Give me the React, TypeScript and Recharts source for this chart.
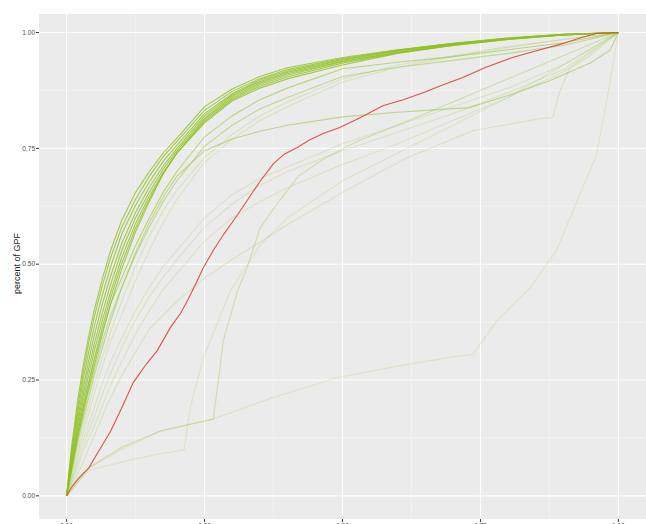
import React from 'react'
import { LineChart, Line, XAxis, YAxis, CartesianGrid } from 'recharts'

// shared x grid (share of population) for the smooth curves
const grid = [0, 0.005, 0.01, 0.02, 0.03, 0.04, 0.05, 0.065, 0.08, 0.1, 0.125, 0.15, 0.175, 0.2, 0.25, 0.3, 0.35, 0.4, 0.5, 0.6, 0.7, 0.8, 0.9, 1]

// strong green curves
const d1 = [0, 0.06, 0.115, 0.205, 0.28, 0.345, 0.4, 0.47, 0.53, 0.595, 0.655, 0.7, 0.74, 0.772, 0.84, 0.878, 0.905, 0.924, 0.946, 0.963, 0.977, 0.988, 0.996, 1]
const d2 = [0, 0.055, 0.105, 0.19, 0.265, 0.33, 0.385, 0.455, 0.515, 0.58, 0.64, 0.69, 0.732, 0.765, 0.832, 0.873, 0.9, 0.92, 0.944, 0.962, 0.976, 0.988, 0.996, 1]
const d3 = [0, 0.05, 0.098, 0.178, 0.25, 0.31, 0.365, 0.435, 0.495, 0.565, 0.627, 0.678, 0.722, 0.757, 0.825, 0.868, 0.897, 0.917, 0.942, 0.961, 0.976, 0.987, 0.996, 1]
const d4 = [0, 0.045, 0.09, 0.165, 0.232, 0.292, 0.345, 0.415, 0.475, 0.545, 0.612, 0.666, 0.712, 0.75, 0.82, 0.865, 0.894, 0.914, 0.94, 0.96, 0.975, 0.987, 0.995, 1]
const d5 = [0, 0.042, 0.083, 0.155, 0.218, 0.275, 0.327, 0.396, 0.457, 0.53, 0.6, 0.656, 0.705, 0.745, 0.815, 0.862, 0.891, 0.911, 0.938, 0.958, 0.974, 0.986, 0.995, 1]
const d6 = [0, 0.038, 0.076, 0.145, 0.205, 0.26, 0.312, 0.38, 0.44, 0.515, 0.588, 0.647, 0.698, 0.74, 0.812, 0.858, 0.888, 0.908, 0.937, 0.957, 0.973, 0.986, 0.995, 1]
const d7 = [0, 0.034, 0.069, 0.135, 0.192, 0.245, 0.295, 0.365, 0.428, 0.502, 0.578, 0.64, 0.696, 0.74, 0.808, 0.855, 0.884, 0.904, 0.934, 0.956, 0.972, 0.985, 0.995, 1]
const d8 = [0, 0.03, 0.062, 0.125, 0.18, 0.232, 0.28, 0.35, 0.415, 0.49, 0.57, 0.635, 0.695, 0.74, 0.805, 0.852, 0.88, 0.9, 0.93, 0.955, 0.972, 0.985, 0.995, 1]

// medium green curves
const m1 = [0, 0.035, 0.07, 0.135, 0.19, 0.24, 0.29, 0.355, 0.415, 0.47, 0.54, 0.6, 0.655, 0.7, 0.775, 0.82, 0.855, 0.88, 0.922, 0.936, 0.948, 0.963, 0.978, 1]
const m2 = [0, 0.032, 0.065, 0.125, 0.175, 0.225, 0.27, 0.335, 0.39, 0.45, 0.52, 0.58, 0.635, 0.68, 0.755, 0.8, 0.835, 0.86, 0.905, 0.925, 0.94, 0.955, 0.972, 1]

// pale curves
const lt1 = [0, 0.025, 0.05, 0.1, 0.15, 0.195, 0.24, 0.3, 0.355, 0.42, 0.495, 0.56, 0.615, 0.66, 0.73, 0.78, 0.82, 0.85, 0.9, 0.93, 0.95, 0.97, 0.985, 1]
const lt2 = [0, 0.022, 0.045, 0.09, 0.135, 0.178, 0.22, 0.28, 0.335, 0.39, 0.465, 0.53, 0.59, 0.64, 0.72, 0.77, 0.81, 0.84, 0.893, 0.925, 0.948, 0.968, 0.985, 1]
const l1 = [0, 0.02, 0.04, 0.08, 0.12, 0.155, 0.19, 0.245, 0.29, 0.34, 0.4, 0.45, 0.495, 0.53, 0.6, 0.65, 0.685, 0.71, 0.76, 0.8, 0.84, 0.88, 0.93, 1]
const l2 = [0, 0.018, 0.035, 0.07, 0.105, 0.14, 0.17, 0.22, 0.265, 0.32, 0.38, 0.43, 0.472, 0.51, 0.58, 0.63, 0.67, 0.7, 0.745, 0.785, 0.825, 0.87, 0.92, 1]
const l3 = [0, 0.015, 0.03, 0.062, 0.095, 0.123, 0.15, 0.195, 0.24, 0.29, 0.35, 0.4, 0.445, 0.48, 0.55, 0.6, 0.635, 0.665, 0.715, 0.76, 0.81, 0.86, 0.915, 1]

// curves with their own x positions
const flatX = [0, 0.01, 0.025, 0.05, 0.075, 0.1, 0.125, 0.15, 0.175, 0.2, 0.25, 0.3, 0.35, 0.4, 0.5, 0.6, 0.73, 0.8, 0.875, 0.95, 0.985, 1]
const flatY = [0, 0.06, 0.14, 0.26, 0.36, 0.45, 0.525, 0.59, 0.645, 0.69, 0.745, 0.77, 0.787, 0.8, 0.818, 0.828, 0.838, 0.864, 0.896, 0.935, 0.962, 1]

const kneeX = [0, 0.01, 0.025, 0.05, 0.075, 0.1, 0.15, 0.2, 0.25, 0.3, 0.4, 0.5, 0.617, 0.736, 0.857, 0.881, 0.893, 0.911, 0.948, 1]
const kneeY = [0, 0.025, 0.06, 0.13, 0.2, 0.26, 0.36, 0.42, 0.47, 0.51, 0.585, 0.655, 0.73, 0.788, 0.814, 0.816, 0.87, 0.922, 0.95, 1]

const stepAX = [0, 0.04, 0.11, 0.17, 0.213, 0.224, 0.248, 0.297, 0.35, 0.4, 0.5, 0.6, 0.7, 0.8, 0.9, 1]
const stepAY = [0, 0.055, 0.076, 0.091, 0.099, 0.19, 0.298, 0.443, 0.54, 0.6, 0.68, 0.74, 0.8, 0.86, 0.93, 1]

const stepBX = [0, 0.04, 0.1, 0.17, 0.266, 0.275, 0.284, 0.31, 0.327, 0.351, 0.382, 0.42, 0.47, 0.53, 0.6, 0.7, 0.8, 0.9, 1]
const stepBY = [0, 0.06, 0.105, 0.14, 0.166, 0.248, 0.335, 0.443, 0.492, 0.579, 0.631, 0.69, 0.73, 0.767, 0.8, 0.85, 0.9, 0.95, 1]

const lowX = [0, 0.02, 0.04, 0.1, 0.17, 0.266, 0.369, 0.49, 0.6, 0.7, 0.736, 0.745, 0.78, 0.84, 0.888, 0.935, 0.96, 0.978, 0.99, 1]
const lowY = [0, 0.04, 0.06, 0.1, 0.14, 0.166, 0.21, 0.255, 0.28, 0.3, 0.305, 0.32, 0.378, 0.449, 0.53, 0.665, 0.734, 0.847, 0.93, 1]

// highlighted curve
const redX = [0, 0.01, 0.02, 0.03, 0.04, 0.06, 0.08, 0.1, 0.121, 0.145, 0.164, 0.188, 0.206, 0.219, 0.235, 0.248, 0.266, 0.285, 0.3, 0.327, 0.35, 0.375, 0.395, 0.418, 0.44, 0.465, 0.495, 0.53, 0.573, 0.61, 0.646, 0.68, 0.718, 0.76, 0.808, 0.85, 0.899, 0.93, 0.96, 1]
const redY = [0, 0.02, 0.035, 0.048, 0.06, 0.1, 0.14, 0.19, 0.245, 0.285, 0.313, 0.363, 0.393, 0.421, 0.46, 0.493, 0.53, 0.565, 0.59, 0.637, 0.678, 0.717, 0.738, 0.752, 0.768, 0.782, 0.795, 0.815, 0.842, 0.855, 0.87, 0.886, 0.903, 0.925, 0.946, 0.96, 0.976, 0.988, 0.998, 1]

const xTicks = [0, 0.25, 0.5, 0.75, 1]
const yTicks = [0, 0.25, 0.5, 0.75, 1]
const xMinor = [0.125, 0.375, 0.625, 0.875]
const yMinor = [0.125, 0.375, 0.625, 0.875]

const GREEN = '#8DC21F'

const toPoints = (xs: number[], ys: number[]) => xs.map((x, i) => ({ x, y: ys[i] }))

const series = [
  { id: 'low', xs: lowX, ys: lowY, color: GREEN, opacity: 0.18 },
  { id: 'stepA', xs: stepAX, ys: stepAY, color: GREEN, opacity: 0.18 },
  { id: 'knee', xs: kneeX, ys: kneeY, color: GREEN, opacity: 0.22 },
  { id: 'l3', xs: grid, ys: l3, color: GREEN, opacity: 0.2 },
  { id: 'l2', xs: grid, ys: l2, color: GREEN, opacity: 0.2 },
  { id: 'l1', xs: grid, ys: l1, color: GREEN, opacity: 0.2 },
  { id: 'stepB', xs: stepBX, ys: stepBY, color: GREEN, opacity: 0.32 },
  { id: 'lt2', xs: grid, ys: lt2, color: GREEN, opacity: 0.2 },
  { id: 'lt1', xs: grid, ys: lt1, color: GREEN, opacity: 0.22 },
  { id: 'flat', xs: flatX, ys: flatY, color: GREEN, opacity: 0.5 },
  { id: 'm2', xs: grid, ys: m2, color: GREEN, opacity: 0.45 },
  { id: 'm1', xs: grid, ys: m1, color: GREEN, opacity: 0.55 },
  { id: 'd8', xs: grid, ys: d8, color: GREEN, opacity: 0.8 },
  { id: 'd7', xs: grid, ys: d7, color: GREEN, opacity: 0.8 },
  { id: 'd6', xs: grid, ys: d6, color: GREEN, opacity: 0.8 },
  { id: 'd5', xs: grid, ys: d5, color: GREEN, opacity: 0.8 },
  { id: 'd4', xs: grid, ys: d4, color: GREEN, opacity: 0.8 },
  { id: 'd3', xs: grid, ys: d3, color: GREEN, opacity: 0.8 },
  { id: 'd2', xs: grid, ys: d2, color: GREEN, opacity: 0.8 },
  { id: 'd1', xs: grid, ys: d1, color: GREEN, opacity: 0.8 },
  { id: 'red', xs: redX, ys: redY, color: '#DE4B3B', opacity: 0.95 },
]

const fmt = (v: number) => v.toFixed(2)

const YTitle = (props: any) => {
  const vb = props.viewBox || { y: 14, height: 505 }
  const cx = 17
  const cy = vb.y + vb.height / 2 - 3
  return (
    <text
      x={cx}
      y={cy}
      transform={`rotate(-90, ${cx}, ${cy})`}
      textAnchor="middle"
      dominantBaseline="central"
      fontSize={9}
      fill="#1A1A1A"
      fontFamily="Liberation Sans, Arial, sans-serif"
    >
      percent of GPF
    </text>
  )
}

export default function App() {
  const tickStyle = { fontSize: 6.5, fill: '#4D4D4D', fontFamily: 'Liberation Sans, Arial, sans-serif' }
  return (
    <div style={{ position: 'absolute', left: 0, top: 0, width: 646, height: 524, background: '#fff' }}>
      <LineChart width={646} height={524} margin={{ top: 14, right: 0, bottom: 0, left: 0 }}>
        <CartesianGrid
          fill="#EBEBEB"
          stroke="#F5F5F5"
          strokeWidth={0.6}
          horizontalValues={yMinor}
          verticalValues={xMinor}
        />
        <CartesianGrid
          stroke="#FFFFFF"
          strokeWidth={1.1}
          horizontalValues={yTicks}
          verticalValues={xTicks}
        />
        <XAxis
          dataKey="x"
          type="number"
          domain={[-0.05, 1.05]}
          ticks={xTicks}
          tickFormatter={fmt}
          allowDataOverflow
          axisLine={false}
          tickLine={{ stroke: '#333' }}
          tickSize={3}
          tickMargin={1}
          height={5}
          tick={tickStyle}
        />
        <YAxis
          type="number"
          domain={[-0.05, 1.04]}
          ticks={yTicks}
          tickFormatter={fmt}
          allowDataOverflow
          axisLine={false}
          tickLine={{ stroke: '#333' }}
          tickSize={3}
          tickMargin={1}
          width={39}
          tick={tickStyle}
          label={{ content: YTitle }}
        />
        {series.map((s) => (
          <Line
            key={s.id}
            data={toPoints(s.xs, s.ys)}
            dataKey="y"
            type="linear"
            stroke={s.color}
            strokeOpacity={s.opacity}
            strokeWidth={1.1}
            dot={false}
            activeDot={false}
            isAnimationActive={false}
          />
        ))}
      </LineChart>
    </div>
  )
}
